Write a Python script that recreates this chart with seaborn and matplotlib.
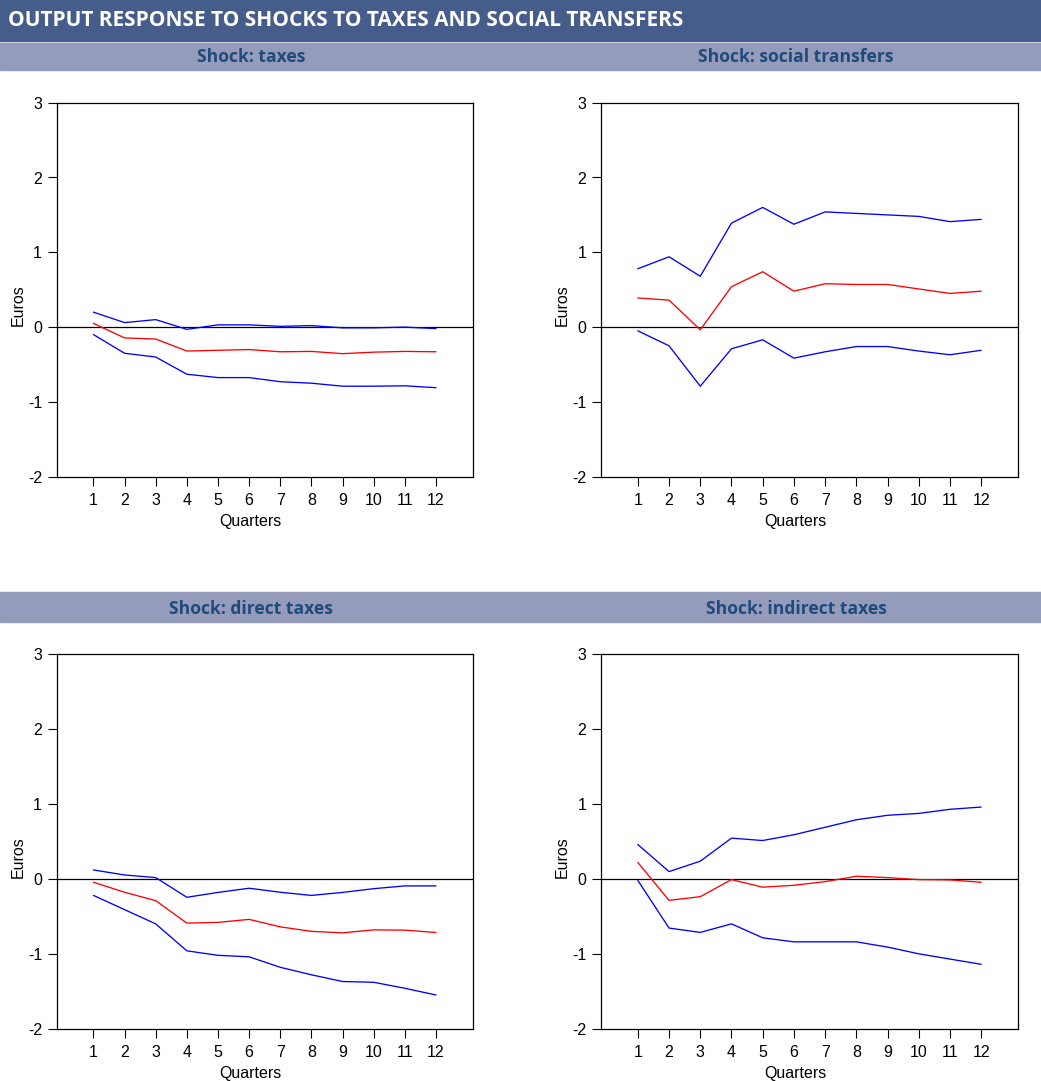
import numpy as np
import pandas as pd
import matplotlib
matplotlib.use("Agg")
import matplotlib.pyplot as plt
import seaborn as sns
from matplotlib.patches import Rectangle

sns.set_theme(style="white")
plt.rcParams['font.family'] = ['Liberation Sans', 'DejaVu Sans']

quarters = list(range(1, 13))

title = "OUTPUT RESPONSE TO SHOCKS TO TAXES AND SOCIAL TRANSFERS"
panel_titles = ["Shock: taxes", "Shock: social transfers",
                "Shock: direct taxes", "Shock: indirect taxes"]

taxes_upper = [0.20, 0.06, 0.10, -0.03, 0.03, 0.03, 0.01, 0.02, -0.01, -0.01, 0.00, -0.02]
taxes_mid = [0.05, -0.145, -0.16, -0.32, -0.31, -0.30, -0.33, -0.325, -0.355, -0.335, -0.325, -0.33]
taxes_lower = [-0.10, -0.35, -0.40, -0.63, -0.675, -0.675, -0.73, -0.75, -0.79, -0.79, -0.785, -0.81]

social_upper = [0.78, 0.94, 0.68, 1.39, 1.60, 1.375, 1.54, 1.52, 1.50, 1.48, 1.41, 1.44]
social_mid = [0.39, 0.36, -0.036, 0.54, 0.74, 0.48, 0.58, 0.57, 0.57, 0.51, 0.45, 0.48]
social_lower = [-0.05, -0.25, -0.79, -0.29, -0.17, -0.415, -0.33, -0.26, -0.26, -0.32, -0.37, -0.31]

direct_upper = [0.12, 0.053, 0.018, -0.245, -0.18, -0.124, -0.178, -0.22, -0.18, -0.13, -0.093, -0.093]
direct_mid = [-0.044, -0.178, -0.29, -0.59, -0.58, -0.54, -0.64, -0.70, -0.72, -0.68, -0.684, -0.715]
direct_lower = [-0.22, -0.41, -0.60, -0.96, -1.02, -1.04, -1.18, -1.28, -1.37, -1.38, -1.46, -1.55]

indirect_upper = [0.46, 0.098, 0.237, 0.545, 0.513, 0.59, 0.69, 0.79, 0.85, 0.875, 0.93, 0.96]
indirect_mid = [0.22, -0.286, -0.237, -0.009, -0.11, -0.085, -0.036, 0.036, 0.018, -0.009, -0.013, -0.045]
indirect_lower = [-0.02, -0.656, -0.714, -0.60, -0.786, -0.84, -0.84, -0.84, -0.91, -1.00, -1.07, -1.14]

y_ticks = [-2, -1, 0, 1, 2, 3]
x_label = "Quarters"
y_label = "Euros"

panels = [
    (taxes_upper, taxes_mid, taxes_lower),
    (social_upper, social_mid, social_lower),
    (direct_upper, direct_mid, direct_lower),
    (indirect_upper, indirect_mid, indirect_lower),
]

W, H = 1041, 1081
fig = plt.figure(figsize=(W / 100, H / 100), dpi=100)

def fx(px):
    return px / W

def fy(py):
    return 1 - py / H

DARK = "#465C8A"
LIGHT = "#959BBA"
SUBTXT = "#1F4A7C"

# header bands
fig.patches.append(Rectangle((0, fy(41)), 1, fy(0) - fy(41), transform=fig.transFigure,
                             color=DARK, zorder=0))
fig.patches.append(Rectangle((0, fy(70)), 1, fy(42.5) - fy(70), transform=fig.transFigure,
                             color=LIGHT, zorder=0))
fig.patches.append(Rectangle((0, fy(621.7)), 1, fy(592.3) - fy(621.7), transform=fig.transFigure,
                             color=LIGHT, zorder=0))
fig.text(fx(8), fy(21), title, color="white", fontsize=15, fontweight="bold",
         family=["Open Sans", "DejaVu Sans"], ha="left", va="center")

sub_pos = [(251, 57.5), (796, 57.5), (251, 608.5), (796, 608.5)]
for (sx, sy), t in zip(sub_pos, panel_titles):
    fig.text(fx(sx), fy(sy), t, color=SUBTXT, fontsize=12.6, fontweight="bold",
             family=["Open Sans", "DejaVu Sans"], ha="center", va="center")

boxes = [
    (56.7, 102.7, 472.7, 476.7),
    (601, 102.7, 1018, 476.7),
    (56.7, 654.3, 472.7, 1028.7),
    (601, 654.3, 1018, 1028.7),
]

for (x0, y0, x1, y1), (up, mid, lo) in zip(boxes, panels):
    ax = fig.add_axes([fx(x0), fy(y1), fx(x1) - fx(x0), fy(y0) - fy(y1)])
    df = pd.DataFrame({
        "quarter": quarters * 3,
        "value": up + mid + lo,
        "series": ["upper"] * 12 + ["mid"] * 12 + ["lower"] * 12,
    })
    sns.lineplot(data=df, x="quarter", y="value", hue="series", units="series",
                 estimator=None,
                 palette={"upper": "#0000FF", "mid": "#FF0000", "lower": "#0000FF"},
                 linewidth=0.95, legend=False, ax=ax)
    ax.axhline(0, color="black", linewidth=0.9, zorder=1)
    ax.set_xlim(-0.18, 13.18)
    ax.set_ylim(-2, 3)
    ax.set_xticks(quarters)
    ax.set_yticks(y_ticks)
    ax.set_yticklabels([str(v) for v in y_ticks])
    ax.tick_params(axis="both", direction="out", length=6.5, width=0.8, color="black",
                   labelsize=11.5, labelcolor="black", left=True, bottom=True)
    ax.tick_params(axis="y", pad=4)
    ax.tick_params(axis="x", pad=5)
    for s in ax.spines.values():
        s.set_visible(True)
        s.set_color("black")
        s.set_linewidth(0.9)
    ax.set_xlabel(x_label, fontsize=11.5, color="black")
    ax.set_ylabel(y_label, fontsize=11.5, color="black")
    ax.xaxis.set_label_coords(0.465, -0.100)
    ax.yaxis.set_label_coords(-0.074, 0.459)
    ax.set_facecolor("white")
    ax.grid(False)

fig.savefig("out.png", dpi=100, facecolor="white")
